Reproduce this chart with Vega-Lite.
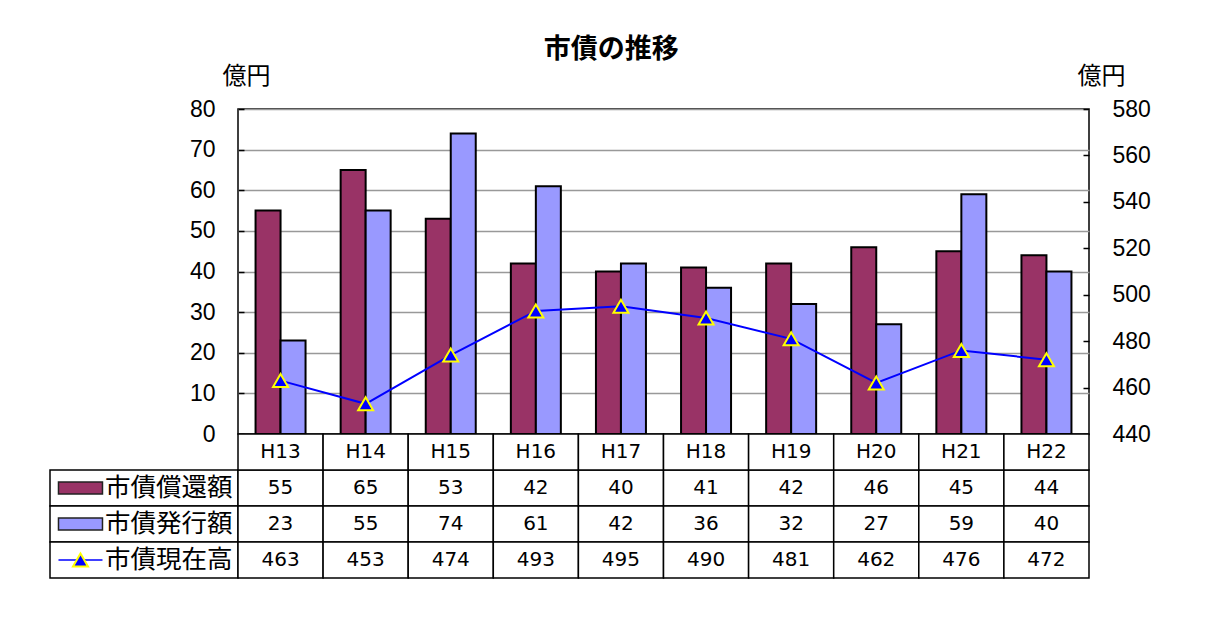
{
  "$schema": "https://vega.github.io/schema/vega-lite/v6.json",
  "background": "white",
  "padding": {"left": 49, "top": 36, "right": 5, "bottom": 5},
  "datasets": {
    "main": [
      {"年度": "H13", "市債償還額": 55, "市債発行額": 23, "市債現在高": 463},
      {"年度": "H14", "市債償還額": 65, "市債発行額": 55, "市債現在高": 453},
      {"年度": "H15", "市債償還額": 53, "市債発行額": 74, "市債現在高": 474},
      {"年度": "H16", "市債償還額": 42, "市債発行額": 61, "市債現在高": 493},
      {"年度": "H17", "市債償還額": 40, "市債発行額": 42, "市債現在高": 495},
      {"年度": "H18", "市債償還額": 41, "市債発行額": 36, "市債現在高": 490},
      {"年度": "H19", "市債償還額": 42, "市債発行額": 32, "市債現在高": 481},
      {"年度": "H20", "市債償還額": 46, "市債発行額": 27, "市債現在高": 462},
      {"年度": "H21", "市債償還額": 45, "市債発行額": 59, "市債現在高": 476},
      {"年度": "H22", "市債償還額": 44, "市債発行額": 40, "市債現在高": 472}
    ],
    "keys": [
      {"系列": "市債償還額"},
      {"系列": "市債発行額"},
      {"系列": "市債現在高"}
    ]
  },
  "title": {
    "text": "市債の推移",
    "font": "Noto Sans CJK JP",
    "fontSize": 27,
    "fontWeight": "bold",
    "color": "black",
    "anchor": "middle",
    "frame": "bounds",
    "offset": -1,
    "dx": 11
  },
  "columns": 2,
  "spacing": 0,
  "bounds": "flush",
  "align": "each",
  "concat": [
    {
      "width": 188,
      "height": 10,
      "data": {"values": []},
      "mark": "point",
      "view": {"stroke": null}
    },
    {
      "width": 851,
      "height": 325,
      "data": {"name": "main"},
      "view": {"stroke": "black", "strokeWidth": 1.5},
      "layer": [
        {
          "transform": [{"fold": ["市債償還額", "市債発行額"], "as": ["系列", "値"]}],
          "mark": {"type": "bar", "stroke": "black", "strokeWidth": 2},
          "encoding": {
            "x": {"field": "年度", "type": "nominal", "sort": null,
                  "scale": {"paddingInner": 0.4125, "paddingOuter": 0.20625}, "axis": null},
            "xOffset": {"field": "系列", "type": "nominal", "sort": ["市債償還額", "市債発行額"]},
            "y": {"field": "値", "type": "quantitative",
                  "scale": {"domain": [0, 80], "nice": false},
                  "axis": {
                    "orient": "left",
                    "values": [0, 10, 20, 30, 40, 50, 60, 70, 80],
                    "grid": true, "gridColor": "#999999", "gridWidth": 1.5,
                    "domain": false,
                    "ticks": true, "tickColor": "black", "tickWidth": 1.5, "tickSize": -6,
                    "labelPadding": 29,
                    "labelFont": "Liberation Sans", "labelFontSize": 23, "labelColor": "black",
                    "title": "億円", "titleAngle": 0, "titleAlign": "center", "titleBaseline": "middle",
                    "titleX": 8, "titleY": -33,
                    "titleFont": "Noto Sans CJK JP", "titleFontSize": 24, "titleFontWeight": "normal", "titleColor": "black"
                  }},
            "color": {"field": "系列", "type": "nominal",
                      "scale": {"domain": ["市債償還額", "市債発行額"], "range": ["#993366", "#9999FF"]},
                      "legend": null}
          }
        },
        {
          "layer": [
            {
              "mark": {"type": "line", "color": "#0000FF", "strokeWidth": 2},
              "encoding": {
                "x": {"field": "年度", "type": "nominal", "sort": null},
                "y": {"field": "市債現在高", "type": "quantitative",
                      "scale": {"domain": [440, 580], "nice": false, "zero": false},
                      "axis": {
                        "orient": "right",
                        "values": [440, 460, 480, 500, 520, 540, 560, 580],
                        "grid": false,
                        "domain": false,
                        "ticks": true, "tickColor": "black", "tickWidth": 1.5, "tickSize": -6,
                        "labelPadding": 29,
                        "labelFont": "Liberation Sans", "labelFontSize": 23, "labelColor": "black",
                        "title": "億円", "titleAngle": 0, "titleAlign": "center", "titleBaseline": "middle",
                        "titleX": 12, "titleY": -33,
                        "titleFont": "Noto Sans CJK JP", "titleFontSize": 24, "titleFontWeight": "normal", "titleColor": "black"
                      }}
              }
            },
            {
              "mark": {"type": "point", "shape": "triangle-up", "filled": true, "fill": "#0000FF",
                       "stroke": "#FFFF00", "strokeWidth": 2, "size": 225, "opacity": 1},
              "encoding": {
                "x": {"field": "年度", "type": "nominal", "sort": null},
                "y": {"field": "市債現在高", "type": "quantitative"}
              }
            }
          ]
        }
      ],
      "resolve": {"scale": {"y": "independent"}}
    },
    {
      "width": 188,
      "height": 144,
      "data": {"name": "keys"},
      "view": {"stroke": null},
      "layer": [
        {
          "mark": {"type": "rect", "fill": "white", "stroke": "black", "strokeWidth": 1.5},
          "encoding": {
            "y": {"field": "系列", "type": "nominal",
                  "scale": {"domain": ["年度", "市債償還額", "市債発行額", "市債現在高"], "paddingInner": 0, "paddingOuter": 0},
                  "axis": null}
          }
        },
        {
          "mark": {"type": "text", "align": "right", "baseline": "middle", "font": "Noto Sans CJK JP", "fontSize": 25.5, "color": "black"},
          "encoding": {
            "y": {"field": "系列", "type": "nominal"},
            "x": {"datum": "名称", "type": "nominal",
                  "scale": {"type": "point", "domain": ["記号", "名称"], "padding": 0.1184, "align": 0.847},
                  "axis": null},
            "text": {"field": "系列"}
          }
        },
        {
          "transform": [{"filter": "datum['系列'] !== '市債現在高'"}],
          "mark": {"type": "point", "filled": true, "stroke": "#222222", "strokeWidth": 1.5, "size": 1936, "opacity": 1,
                   "shape": "M-1,-0.27H1V0.27H-1Z"},
          "encoding": {
            "y": {"field": "系列", "type": "nominal"},
            "x": {"datum": "記号", "type": "nominal"},
            "fill": {"field": "系列", "type": "nominal",
                     "scale": {"domain": ["市債償還額", "市債発行額"], "range": ["#993366", "#9999FF"]},
                     "legend": null}
          }
        },
        {
          "transform": [{"filter": "datum['系列'] === '市債現在高'"}],
          "mark": {"type": "point", "filled": false, "stroke": "#0000FF", "strokeWidth": 1.5, "size": 1936, "opacity": 1,
                   "shape": "M-1,0H1"},
          "encoding": {
            "y": {"field": "系列", "type": "nominal"},
            "x": {"datum": "記号", "type": "nominal"}
          }
        },
        {
          "transform": [{"filter": "datum['系列'] === '市債現在高'"}],
          "mark": {"type": "point", "shape": "triangle-up", "filled": true, "fill": "#0000FF",
                   "stroke": "#FFFF00", "strokeWidth": 2, "size": 225, "opacity": 1},
          "encoding": {
            "y": {"field": "系列", "type": "nominal"},
            "x": {"datum": "記号", "type": "nominal"}
          }
        }
      ]
    },
    {
      "width": 851,
      "height": 144,
      "data": {"name": "main"},
      "view": {"stroke": null},
      "layer": [
        {
          "transform": [{"fold": ["市債償還額", "市債発行額", "市債現在高"], "as": ["系列", "値"]}],
          "mark": {"type": "rect", "fill": "white", "stroke": "black", "strokeWidth": 1.5},
          "encoding": {
            "x": {"field": "年度", "type": "nominal", "sort": null,
                  "scale": {"paddingInner": 0, "paddingOuter": 0}, "axis": null},
            "y": {"field": "系列", "type": "nominal",
                  "scale": {"domain": ["年度", "市債償還額", "市債発行額", "市債現在高"], "paddingInner": 0, "paddingOuter": 0},
                  "axis": null}
          }
        },
        {
          "mark": {"type": "rect", "fill": "white", "stroke": "black", "strokeWidth": 1.5},
          "encoding": {
            "x": {"field": "年度", "type": "nominal", "sort": null},
            "y": {"datum": "年度", "type": "nominal"}
          }
        },
        {
          "mark": {"type": "text", "align": "center", "baseline": "middle", "font": "DejaVu Sans", "fontSize": 20, "color": "black"},
          "encoding": {
            "x": {"field": "年度", "type": "nominal", "sort": null},
            "y": {"datum": "年度", "type": "nominal"},
            "text": {"field": "年度"}
          }
        },
        {
          "transform": [{"fold": ["市債償還額", "市債発行額", "市債現在高"], "as": ["系列", "値"]}],
          "mark": {"type": "text", "align": "center", "baseline": "middle", "font": "DejaVu Sans", "fontSize": 20, "color": "black"},
          "encoding": {
            "x": {"field": "年度", "type": "nominal", "sort": null},
            "y": {"field": "系列", "type": "nominal"},
            "text": {"field": "値", "type": "quantitative", "format": "d"}
          }
        }
      ]
    }
  ],
  "config": {
    "view": {"stroke": null}
  }
}
